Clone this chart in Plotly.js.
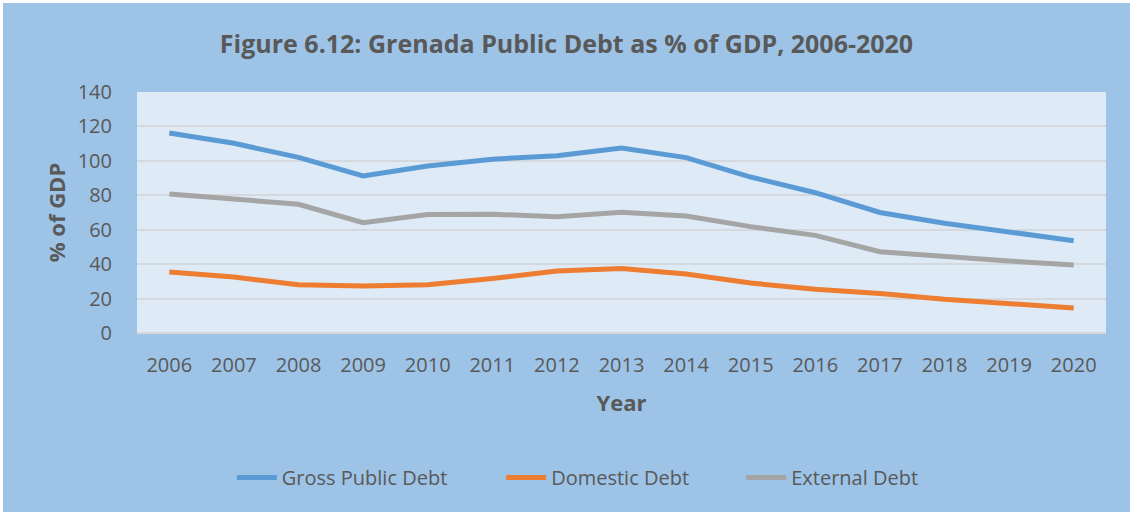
<!DOCTYPE html>
<html>
<head>
<meta charset="utf-8">
<script src="https://cdn.plot.ly/plotly-3.0.1.min.js"></script>
<style>
html,body{margin:0;padding:0;background:#ffffff;}
#chart{position:absolute;left:3px;top:3px;width:1127px;height:509px;}
</style>
</head>
<body>
<div id="chart"></div>
<script>
const years = ['2006','2007','2008','2009','2010','2011','2012','2013','2014','2015','2016','2017','2018','2019','2020'];
const grossDebt = [116.2, 110.2, 102, 91.2, 97, 101, 103, 107.4, 101.9, 90.6, 81.5, 70, 63.8, 58.8, 53.6];
const domesticDebt = [35.4, 32.5, 28, 27.3, 28, 31.6, 36, 37.4, 34.3, 29, 25.4, 23, 19.6, 17.2, 14.5];
const externalDebt = [80.8, 77.9, 74.8, 64.1, 68.8, 69, 67.6, 70.1, 68, 61.8, 56.7, 47.2, 44.3, 41.8, 39.5];
const seriesNames = ['Gross Public Debt', 'Domestic Debt', 'External Debt'];
const seriesColors = ['#5B9BD5', '#ED7D31', '#A5A5A5'];

const font = 'Open Sans, Noto Sans, sans-serif';
const textColor = '#595959';
const values = [grossDebt, domesticDebt, externalDebt];
const legendIds = ['legend', 'legend2', 'legend3'];
const legendX = [0.203, 0.442, 0.655];

const traces = values.map((v, i) => ({
  x: years, y: v, type: 'scatter', mode: 'lines', name: seriesNames[i],
  line: {color: seriesColors[i], width: 5},
  legend: legendIds[i]
}));

const layout = {
  width: 1127, height: 509,
  paper_bgcolor: '#9DC3E6',
  plot_bgcolor: '#DEEAF6',
  margin: {l: 134, r: 24, t: 89, b: 179},
  font: {family: font, color: textColor, size: 20},
  title: {
    text: '<b>Figure 6.12: Grenada Public Debt as % of GDP, 2006-2020</b>',
    font: {family: font, size: 25, color: textColor},
    x: 0.5, xanchor: 'center', y: 0.918, yanchor: 'middle'
  },
  xaxis: {
    type: 'category', range: [-0.5, 14.5],
    tickfont: {size: 20, color: textColor},
    ticks: 'outside', ticklen: 14, tickcolor: 'rgba(0,0,0,0)',
    showgrid: false, showline: false, zeroline: false,
    title: {text: '<b>Year</b>', font: {size: 22, color: textColor}, standoff: 18}
  },
  yaxis: {
    range: [0, 140], dtick: 20,
    tickfont: {size: 20, color: textColor},
    ticks: 'outside', ticklen: 20, tickcolor: 'rgba(0,0,0,0)',
    gridcolor: '#D5D9DD', gridwidth: 2,
    zeroline: true, zerolinecolor: '#D5D9DD', zerolinewidth: 2,
    showline: false,
    title: {text: '<b>% of GDP</b>', font: {size: 22, color: textColor}, standoff: 5}
  },
  showlegend: true
};
legendIds.forEach((id, i) => {
  layout[id] = {
    orientation: 'h', xref: 'container', yref: 'container',
    x: legendX[i], xanchor: 'left', y: 0.068, yanchor: 'middle',
    font: {size: 20, color: textColor},
    bgcolor: 'rgba(0,0,0,0)', itemwidth: 40
  };
});

Plotly.newPlot('chart', traces, layout, {displayModeBar: false, staticPlot: true});
</script>
</body>
</html>
